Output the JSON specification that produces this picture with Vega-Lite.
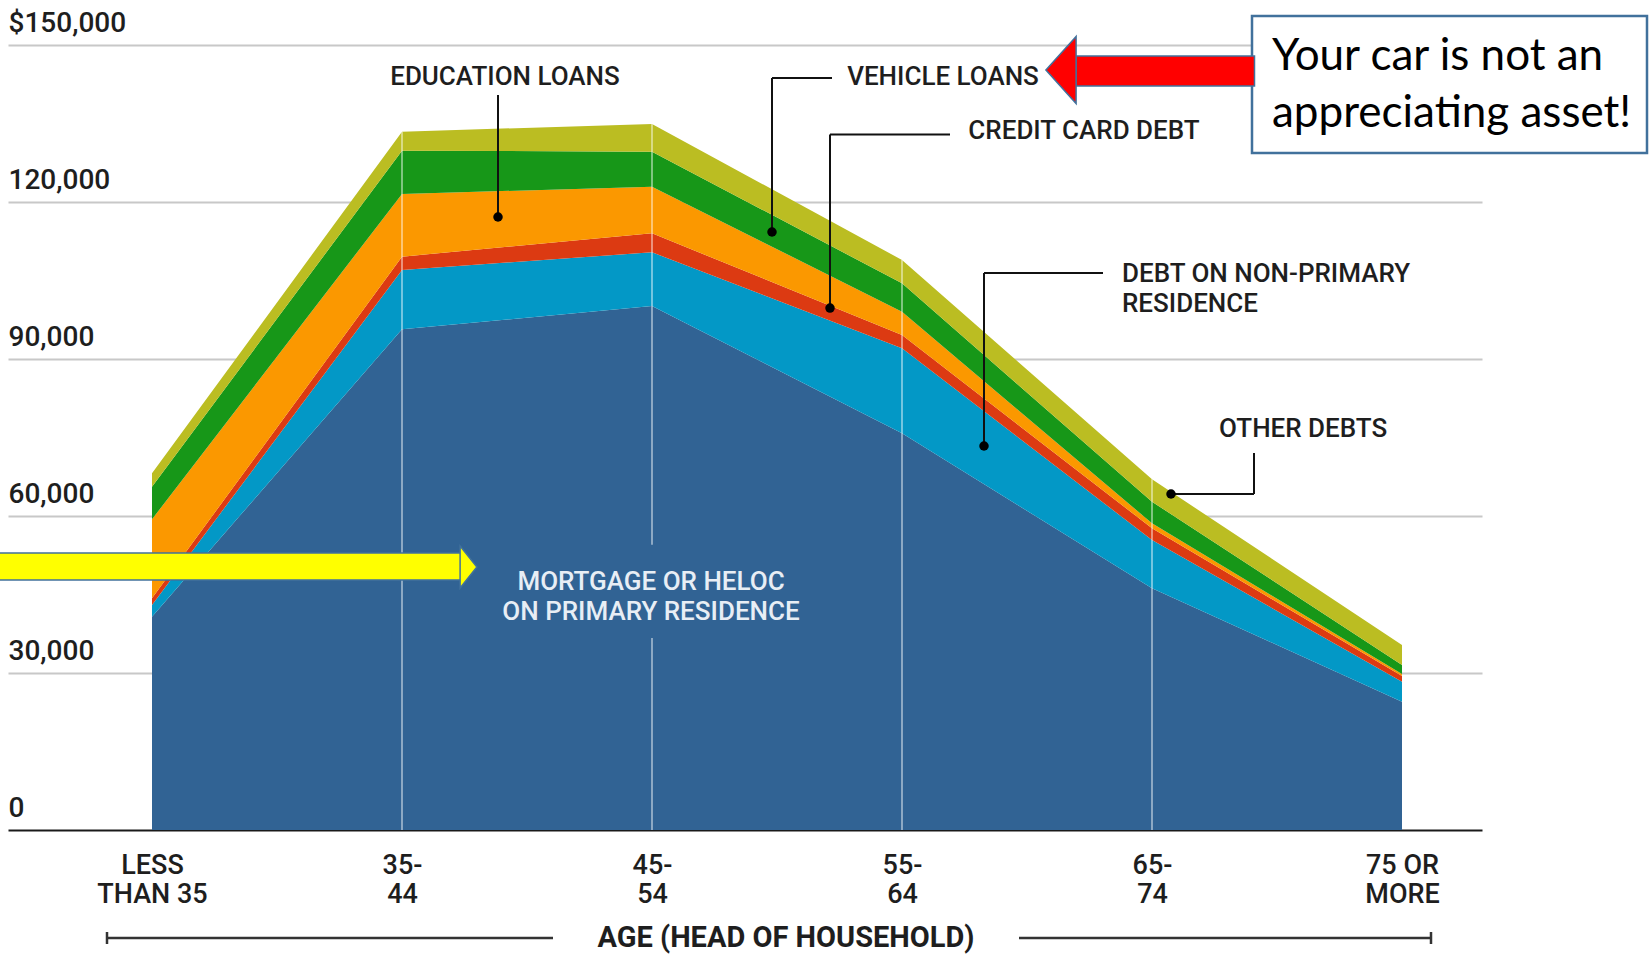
{
  "$schema": "https://vega.github.io/schema/vega-lite/v6.json",
  "width": 1474,
  "height": 785,
  "autosize": {"type": "none"},
  "padding": {"left": 8, "top": 45, "right": 170, "bottom": 128},
  "background": "white",
  "config": {"view": {"stroke": null}, "font": "Roboto"},
  "datasets": {
    "debt": [
      {"age": "LESS THAN 35", "pos": 0, "series": "Mortgage or HELOC on primary residence", "layer": 1, "value": 40760},
      {"age": "LESS THAN 35", "pos": 0, "series": "Debt on non-primary residence", "layer": 2, "value": 2230},
      {"age": "LESS THAN 35", "pos": 0, "series": "Credit card debt", "layer": 3, "value": 1280},
      {"age": "LESS THAN 35", "pos": 0, "series": "Education loans", "layer": 4, "value": 15100},
      {"age": "LESS THAN 35", "pos": 0, "series": "Vehicle loans", "layer": 5, "value": 6230},
      {"age": "LESS THAN 35", "pos": 0, "series": "Other debts", "layer": 6, "value": 2560},
      {"age": "35-44", "pos": 1, "series": "Mortgage or HELOC on primary residence", "layer": 1, "value": 95670},
      {"age": "35-44", "pos": 1, "series": "Debt on non-primary residence", "layer": 2, "value": 11340},
      {"age": "35-44", "pos": 1, "series": "Credit card debt", "layer": 3, "value": 2550},
      {"age": "35-44", "pos": 1, "series": "Education loans", "layer": 4, "value": 11980},
      {"age": "35-44", "pos": 1, "series": "Vehicle loans", "layer": 5, "value": 8270},
      {"age": "35-44", "pos": 1, "series": "Other debts", "layer": 6, "value": 3630},
      {"age": "45-54", "pos": 2, "series": "Mortgage or HELOC on primary residence", "layer": 1, "value": 100130},
      {"age": "45-54", "pos": 2, "series": "Debt on non-primary residence", "layer": 2, "value": 10260},
      {"age": "45-54", "pos": 2, "series": "Credit card debt", "layer": 3, "value": 3630},
      {"age": "45-54", "pos": 2, "series": "Education loans", "layer": 4, "value": 8900},
      {"age": "45-54", "pos": 2, "series": "Vehicle loans", "layer": 5, "value": 6690},
      {"age": "45-54", "pos": 2, "series": "Other debts", "layer": 6, "value": 5290},
      {"age": "55-64", "pos": 3, "series": "Mortgage or HELOC on primary residence", "layer": 1, "value": 75800},
      {"age": "55-64", "pos": 3, "series": "Debt on non-primary residence", "layer": 2, "value": 16240},
      {"age": "55-64", "pos": 3, "series": "Credit card debt", "layer": 3, "value": 2550},
      {"age": "55-64", "pos": 3, "series": "Education loans", "layer": 4, "value": 4450},
      {"age": "55-64", "pos": 3, "series": "Vehicle loans", "layer": 5, "value": 5420},
      {"age": "55-64", "pos": 3, "series": "Other debts", "layer": 6, "value": 4460},
      {"age": "65-74", "pos": 4, "series": "Mortgage or HELOC on primary residence", "layer": 1, "value": 46180},
      {"age": "65-74", "pos": 4, "series": "Debt on non-primary residence", "layer": 2, "value": 9230},
      {"age": "65-74", "pos": 4, "series": "Credit card debt", "layer": 3, "value": 2240},
      {"age": "65-74", "pos": 4, "series": "Education loans", "layer": 4, "value": 950},
      {"age": "65-74", "pos": 4, "series": "Vehicle loans", "layer": 5, "value": 4130},
      {"age": "65-74", "pos": 4, "series": "Other debts", "layer": 6, "value": 4280},
      {"age": "75 OR MORE", "pos": 5, "series": "Mortgage or HELOC on primary residence", "layer": 1, "value": 24520},
      {"age": "75 OR MORE", "pos": 5, "series": "Debt on non-primary residence", "layer": 2, "value": 3820},
      {"age": "75 OR MORE", "pos": 5, "series": "Credit card debt", "layer": 3, "value": 1090},
      {"age": "75 OR MORE", "pos": 5, "series": "Education loans", "layer": 4, "value": 380},
      {"age": "75 OR MORE", "pos": 5, "series": "Vehicle loans", "layer": 5, "value": 1720},
      {"age": "75 OR MORE", "pos": 5, "series": "Other debts", "layer": 6, "value": 3820}
    ],
    "vlines": [
      {"pos": 1, "value": 0, "value2": 133430},
      {"pos": 2, "value": 0, "value2": 36700},
      {"pos": 2, "value": 54500, "value2": 134900},
      {"pos": 3, "value": 0, "value2": 108920},
      {"pos": 4, "value": 0, "value2": 67010}
    ],
    "leaders": [
      {"pos": 1.384, "pos2": 1.384, "value": 140440, "value2": 117130},
      {"pos": 2.48, "pos2": 2.72, "value": 143690, "value2": 143690},
      {"pos": 2.48, "pos2": 2.48, "value": 143690, "value2": 114270},
      {"pos": 2.712, "pos2": 3.192, "value": 132920, "value2": 132920},
      {"pos": 2.712, "pos2": 2.712, "value": 132920, "value2": 99740},
      {"pos": 3.328, "pos2": 3.804, "value": 106430, "value2": 106430},
      {"pos": 3.328, "pos2": 3.328, "value": 106430, "value2": 73375},
      {"pos": 4.408, "pos2": 4.408, "value": 72040, "value2": 64200},
      {"pos": 4.076, "pos2": 4.408, "value": 64200, "value2": 64200}
    ],
    "dots": [
      {"pos": 1.384, "value": 117130},
      {"pos": 2.48, "value": 114270},
      {"pos": 2.712, "value": 99740},
      {"pos": 3.328, "value": 73375},
      {"pos": 4.076, "value": 64200}
    ],
    "labelsCenter": [
      {"pos": 1.412, "value": 143980, "text": "EDUCATION LOANS"},
      {"pos": 3.164, "value": 143980, "text": "VEHICLE LOANS"},
      {"pos": 3.728, "value": 133570, "text": "CREDIT CARD DEBT"}
    ],
    "labelsLeft": [
      {"pos": 3.88, "value": 106335, "text": "DEBT ON NON-PRIMARY\nRESIDENCE"},
      {"pos": 4.268, "value": 76620, "text": "OTHER DEBTS"}
    ],
    "labelsWhite": [
      {"pos": 1.996, "value": 47330, "text": "MORTGAGE OR HELOC\nON PRIMARY RESIDENCE"}
    ],
    "bracket": [
      {"pos": -0.18, "pos2": 1.604, "value": -20636, "value2": -20636},
      {"pos": 3.468, "pos2": 5.116, "value": -20636, "value2": -20636},
      {"pos": -0.18, "pos2": -0.18, "value": -19490, "value2": -21780},
      {"pos": 5.116, "pos2": 5.116, "value": -19490, "value2": -21780}
    ],
    "axisTitle": [
      {"pos": 2.536, "value": -20636, "text": "AGE (HEAD OF HOUSEHOLD)"}
    ],
    "box": [
      {"pos": 4.4, "pos2": 5.98, "value": 155540, "value2": 129360}
    ],
    "boxText": [
      {"pos": 4.48, "value": 147690, "text": "Your car is not an\nappreciating asset!"}
    ],
    "redShaft": [
      {"pos": 3.696, "pos2": 4.41, "value": 147890, "value2": 142160}
    ],
    "redHead": [
      {"pos": 3.636, "value": 145220}
    ],
    "yellowShaft": [
      {"pos": -0.62, "pos2": 1.25, "value": 52920, "value2": 47760}
    ],
    "yellowHead": [
      {"pos": 1.266, "value": 50250}
    ]
  },
  "encoding": {
    "x": {
      "field": "pos",
      "type": "quantitative",
      "scale": {"domain": [-0.576, 5.32], "nice": false, "zero": false},
      "axis": {
        "title": null,
        "values": [0, 1, 2, 3, 4, 5],
        "labelExpr": "[['LESS', 'THAN 35'], ['35-', '44'], ['45-', '54'], ['55-', '64'], ['65-', '74'], ['75 OR', 'MORE']][datum.value]",
        "labelFont": "Roboto",
        "labelFontSize": 27,
        "labelFontWeight": 500,
        "labelColor": "#1e1e1e",
        "labelLineHeight": 29,
        "labelBaseline": "top",
        "labelPadding": 22,
        "labelFlush": false,
        "labelOverlap": false,
        "labelBound": false,
        "ticks": false,
        "tickSize": 0,
        "domain": false,
        "grid": false
      }
    },
    "y": {
      "field": "value",
      "type": "quantitative",
      "scale": {"domain": [0, 150000], "nice": false, "zero": true},
      "axis": {
        "title": null,
        "values": [0, 30000, 60000, 90000, 120000, 150000],
        "labelExpr": "datum.value == 150000 ? '$150,000' : format(datum.value, ',')",
        "labelFont": "Roboto",
        "labelFontSize": 28,
        "labelFontWeight": 500,
        "labelColor": "#1e1e1e",
        "labelAlign": "left",
        "labelBaseline": "alphabetic",
        "labelPadding": 0,
        "labelOffset": -14,
        "labelFlush": false,
        "labelOverlap": false,
        "labelBound": false,
        "ticks": false,
        "tickSize": 0,
        "domain": false,
        "grid": true,
        "gridWidth": 2,
        "gridColor": {"condition": {"test": "datum.value === 0", "value": "#1a1a1a"}, "value": "#c8c8c8"}
      }
    }
  },
  "layer": [
    {
      "data": {"name": "debt"},
      "mark": {"type": "area", "interpolate": "linear"},
      "encoding": {
        "y": {
          "field": "value",
          "type": "quantitative",
          "stack": "zero",
          "scale": {"domain": [0, 150000], "nice": false, "zero": true},
          "axis": {
            "title": null,
            "values": [0, 30000, 60000, 90000, 120000, 150000],
            "labelExpr": "datum.value == 150000 ? '$150,000' : format(datum.value, ',')",
            "labelFont": "Roboto",
            "labelFontSize": 28,
            "labelFontWeight": 500,
            "labelColor": "#1e1e1e",
            "labelAlign": "left",
            "labelBaseline": "alphabetic",
            "labelPadding": 0,
            "labelOffset": -14,
            "labelFlush": false,
            "labelOverlap": false,
            "labelBound": false,
            "ticks": false,
            "tickSize": 0,
            "domain": false,
            "grid": true,
            "gridWidth": 2,
            "gridColor": {"condition": {"test": "datum.value === 0", "value": "#1a1a1a"}, "value": "#c8c8c8"}
          }
        },
        "color": {
          "field": "series",
          "type": "nominal",
          "scale": {
            "domain": ["Mortgage or HELOC on primary residence", "Debt on non-primary residence", "Credit card debt", "Education loans", "Vehicle loans", "Other debts"],
            "range": ["#316394", "#0398c6", "#dc3a12", "#fb9800", "#179718", "#bbbd22"]
          },
          "legend": null
        },
        "order": {"field": "layer", "type": "quantitative", "sort": "ascending"}
      }
    },
    {
      "data": {"name": "vlines"},
      "mark": {"type": "rule", "color": "white", "opacity": 0.45, "strokeWidth": 2},
      "encoding": {
        "y2": {"field": "value2"}
      }
    },
    {
      "data": {"name": "leaders"},
      "mark": {"type": "rule", "color": "#111111", "strokeWidth": 2},
      "encoding": {
        "x2": {"field": "pos2"},
        "y2": {"field": "value2"}
      }
    },
    {
      "data": {"name": "dots"},
      "mark": {"type": "point", "filled": true, "color": "#000000", "size": 90, "opacity": 1},
      "encoding": {}
    },
    {
      "data": {"name": "labelsCenter"},
      "mark": {"type": "text", "font": "Roboto", "fontSize": 26, "fontWeight": 500, "color": "#1e1e1e", "align": "center", "baseline": "middle"},
      "encoding": {
        "text": {"field": "text"}
      }
    },
    {
      "data": {"name": "labelsLeft"},
      "mark": {"type": "text", "font": "Roboto", "fontSize": 26, "fontWeight": 500, "color": "#1e1e1e", "align": "left", "baseline": "middle", "lineBreak": "\n", "lineHeight": 30},
      "encoding": {
        "text": {"field": "text"}
      }
    },
    {
      "data": {"name": "labelsWhite"},
      "mark": {"type": "text", "font": "Roboto", "fontSize": 26, "fontWeight": 500, "color": "#e8eef5", "align": "center", "baseline": "middle", "lineBreak": "\n", "lineHeight": 30},
      "encoding": {
        "text": {"field": "text"}
      }
    },
    {
      "data": {"name": "bracket"},
      "mark": {"type": "rule", "color": "#333333", "strokeWidth": 2.5},
      "encoding": {
        "x2": {"field": "pos2"},
        "y2": {"field": "value2"}
      }
    },
    {
      "data": {"name": "axisTitle"},
      "mark": {"type": "text", "font": "Roboto", "fontSize": 29, "fontWeight": "bold", "color": "#1e1e1e", "align": "center", "baseline": "middle"},
      "encoding": {
        "text": {"field": "text"}
      }
    },
    {
      "data": {"name": "yellowShaft"},
      "mark": {"type": "rect", "color": "#ffff00", "stroke": "#41719c", "strokeWidth": 1.5},
      "encoding": {
        "x2": {"field": "pos2"},
        "y2": {"field": "value2"}
      }
    },
    {
      "data": {"name": "yellowHead"},
      "mark": {"type": "point", "filled": true, "color": "#ffff00", "stroke": "#41719c", "strokeWidth": 1.5, "opacity": 1, "shape": "M-0.4,-1L0.4,0L-0.4,1Z", "size": 1764},
      "encoding": {}
    },
    {
      "data": {"name": "box"},
      "mark": {"type": "rect", "color": "white", "stroke": "#41719c", "strokeWidth": 2.5},
      "encoding": {
        "x2": {"field": "pos2"},
        "y2": {"field": "value2"}
      }
    },
    {
      "data": {"name": "redShaft"},
      "mark": {"type": "rect", "color": "#ff0000", "stroke": "#41719c", "strokeWidth": 1.5},
      "encoding": {
        "x2": {"field": "pos2"},
        "y2": {"field": "value2"}
      }
    },
    {
      "data": {"name": "redHead"},
      "mark": {"type": "point", "filled": true, "color": "#ff0000", "stroke": "#41719c", "strokeWidth": 1.5, "opacity": 1, "shape": "M0.45,-1L-0.45,0L0.45,1Z", "size": 4500},
      "encoding": {}
    },
    {
      "data": {"name": "boxText"},
      "mark": {"type": "text", "font": "Lato", "fontSize": 44, "color": "#000000", "align": "left", "baseline": "middle", "lineBreak": "\n", "lineHeight": 57},
      "encoding": {
        "text": {"field": "text"}
      }
    }
  ]
}
